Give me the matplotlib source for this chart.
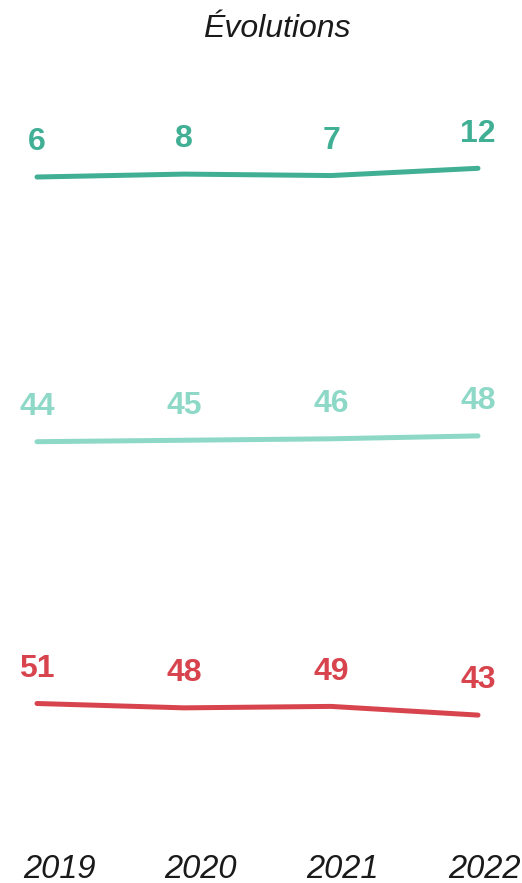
import matplotlib
matplotlib.use('Agg')
import matplotlib.pyplot as plt
import matplotlib.transforms as mtransforms

years = ['2019', '2020', '2021', '2022']
top_vals = [6, 8, 7, 12]
mid_vals = [44, 45, 46, 48]
low_vals = [51, 48, 49, 43]

colors = ['#40AF94', '#8ED8C8', '#D8444D']

W, H = 522, 883
DPI = 100
px_per_unit = 1.45

plt.rcParams['font.family'] = ['Liberation Sans', 'DejaVu Sans']

fig = plt.figure(figsize=(W / DPI, H / DPI), dpi=DPI)


def band_axes(anchor_px, anchor_val):
	# full-figure transparent axes, y scaled so anchor_val sits at anchor_px (from top)
	ax = fig.add_axes([0, 0, 1, 1])
	ax.set_xlim(-37 / 147, (W - 37) / 147)
	ax.set_ylim(anchor_val - (H - anchor_px) / px_per_unit, anchor_val + anchor_px / px_per_unit)
	ax.axis('off')
	ax.patch.set_alpha(0)
	return ax


series = [(top_vals, 177), (mid_vals, 441.7), (low_vals, 703.5)]
x = list(range(len(years)))
for (vals, anchor), col in zip(series, colors):
	ax = band_axes(anchor, vals[0])
	ax.plot(x, vals, color=col, lw=3.6, solid_capstyle='round', solid_joinstyle='round')
	for xi, v in zip(x, vals):
		ax.annotate(str(v), (xi, v), xytext=(0, 25), textcoords='offset points',
			ha='center', va='center', fontsize=23, fontweight='bold', color=col)

# year labels
axy = fig.add_axes([0, 0, 1, 1])
axy.set_xlim(-59 / 141.67, (W - 59) / 141.67)
axy.axis('off')
axy.patch.set_alpha(0)
trans = mtransforms.blended_transform_factory(axy.transData, fig.transFigure)
for xi, yr in zip(x, years):
	axy.text(xi, 1 - 869 / H, yr, transform=trans, ha='center', va='center',
		fontsize=23.5, fontstyle='italic', color='#1a1a1a')

fig.text(277 / W, 1 - 37 / H, 'Évolutions', ha='center', va='baseline',
	fontsize=23, fontstyle='italic', color='#1a1a1a')

fig.savefig('out.png', dpi=DPI)
